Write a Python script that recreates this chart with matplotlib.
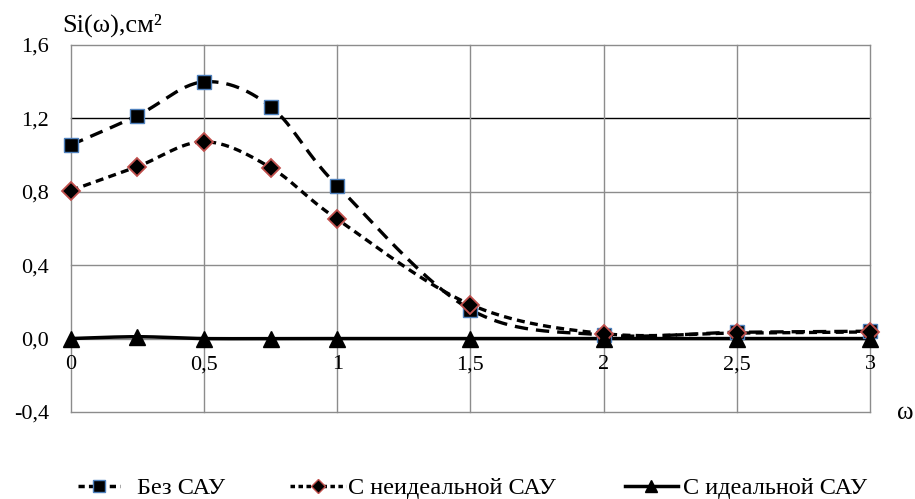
import numpy as np
import matplotlib
matplotlib.use("Agg")
import matplotlib.pyplot as plt
from matplotlib.lines import Line2D

plt.rcParams['font.family'] = ['Liberation Serif', 'DejaVu Serif']

omega = [0, 0.25, 0.5, 0.75, 1.0, 1.5, 2.0, 2.5, 3.0]
bez_sau = [1.054, 1.214, 1.398, 1.263, 0.832, 0.158, 0.020, 0.034, 0.040]
neideal_sau = [0.806, 0.936, 1.072, 0.931, 0.650, 0.185, 0.027, 0.030, 0.036]
ideal_sau = [0.0, 0.01, 0.0, 0.0, 0.0, 0.0, 0.0, 0.0, 0.0]
series_names = ["Без САУ", "С неидеальной САУ", "С идеальной САУ"]
yticks = [-0.4, 0.0, 0.4, 0.8, 1.2, 1.6]
ytick_labels = ["-0,4", "0,0", "0,4", "0,8", "1,2", "1,6"]
xticks = [0, 0.5, 1, 1.5, 2, 2.5, 3]
xtick_labels = ["0", "0,5", "1", "1,5", "2", "2,5", "3"]


def smooth(x, y, n=30):
    """Bezier (Catmull-Rom) rendering of a smoothed line, like Excel's smoothed lines."""
    x = np.asarray(x, float)
    y = np.asarray(y, float)
    px = np.concatenate([[x[0]], x, [x[-1]]])
    py = np.concatenate([[y[0]], y, [y[-1]]])
    xs, ys = [], []
    for i in range(1, len(px) - 2):
        p0, p1, p2, p3 = (np.array([px[j], py[j]]) for j in (i - 1, i, i + 1, i + 2))
        c1 = p1 + (p2 - p0) / 6.0
        c2 = p2 - (p3 - p1) / 6.0
        t = np.linspace(0, 1, n)[:, None]
        b = ((1 - t) ** 3) * p1 + 3 * ((1 - t) ** 2) * t * c1 + 3 * (1 - t) * t ** 2 * c2 + t ** 3 * p2
        xs.append(b[:, 0])
        ys.append(b[:, 1])
    return np.concatenate(xs), np.concatenate(ys)


fig = plt.figure(figsize=(9.15, 4.99), dpi=100)
ax = fig.add_axes([0.0773, 0.1743, 0.8737, 0.7361])
ax.set_xlim(0, 3)
ax.set_ylim(-0.4, 1.6)

grid_c = '#8c8c8c'
for yv in yticks:
    ax.axhline(yv, color=('black' if abs(yv - 1.2) < 1e-9 else grid_c), lw=1.0, zorder=0, clip_on=False)
for xv in xticks:
    ax.axvline(xv, color=grid_c, lw=1.0, zorder=0, clip_on=False)
for s in ax.spines.values():
    s.set_visible(False)
ax.spines['bottom'].set_position(('data', 0))

ax.set_yticks(yticks)
ax.set_yticklabels(ytick_labels)
ax.set_xticks(xticks)
ax.set_xticklabels(xtick_labels)
ax.tick_params(axis='both', length=0, labelsize=16, colors='black')
ax.tick_params(axis='y', pad=15.5)
ax.tick_params(axis='x', pad=12)

# Without SAU
sx, sy = smooth(omega, bez_sau)
ax.plot(sx, sy, color='black', lw=2.4, dashes=(4.0, 2.4), zorder=3, clip_on=False)
ax.plot(omega, bez_sau, ls='none', marker='s', ms=10.5, mfc='black', mec='#4f81bd',
        mew=1.0, zorder=4, clip_on=False)
# Non-ideal SAU
sx, sy = smooth(omega, neideal_sau)
ax.plot(sx, sy, color='black', lw=2.4, dashes=(2.4, 1.6), zorder=3, clip_on=False)
ax.plot(omega, neideal_sau, ls='none', marker='D', ms=9, mfc='black', mec='#c0504d',
        mew=1.3, zorder=5, clip_on=False)
# Ideal SAU
sx, sy = smooth(omega, ideal_sau)
ax.plot(sx, sy, color='black', lw=2.5, zorder=3, clip_on=False)
ax.plot(omega, ideal_sau, ls='none', marker='^', ms=12, mfc='black', mec='black',
        zorder=6, clip_on=False)

fig.text(62 / 915, 1 - 32 / 499, "Si(ω),см²", fontsize=19, ha='left', va='baseline')
fig.text(905 / 915, 1 - 413 / 499, "ω", fontsize=18, ha='center', va='center')

handles = [
    Line2D([], [], color='black', lw=2.5, dashes=(1.8, 1.2), marker='s', ms=8,
           mfc='black', mec='#4f81bd'),
    Line2D([], [], color='black', lw=2.5, dashes=(1.3, 1.0), marker='D', ms=7,
           mfc='black', mec='#c0504d'),
    Line2D([], [], color='black', lw=2.5, marker='^', ms=9, mfc='black', mec='black'),
]
leg_x = [78, 290, 625]
leg_hl = [1.73, 2.3, 2.18]
leg_pad = [0.7, 0.08, 0.2]
for h, name, x0, hl, tp in zip(handles, series_names, leg_x, leg_hl, leg_pad):
    lg = fig.legend([h], [name], loc='center left', bbox_to_anchor=(x0 / 915, 1 - 488 / 499),
                    frameon=False, fontsize=17.5, handlelength=hl, handletextpad=tp,
                    borderpad=0, borderaxespad=0)

fig.savefig("out.png", dpi=100)
